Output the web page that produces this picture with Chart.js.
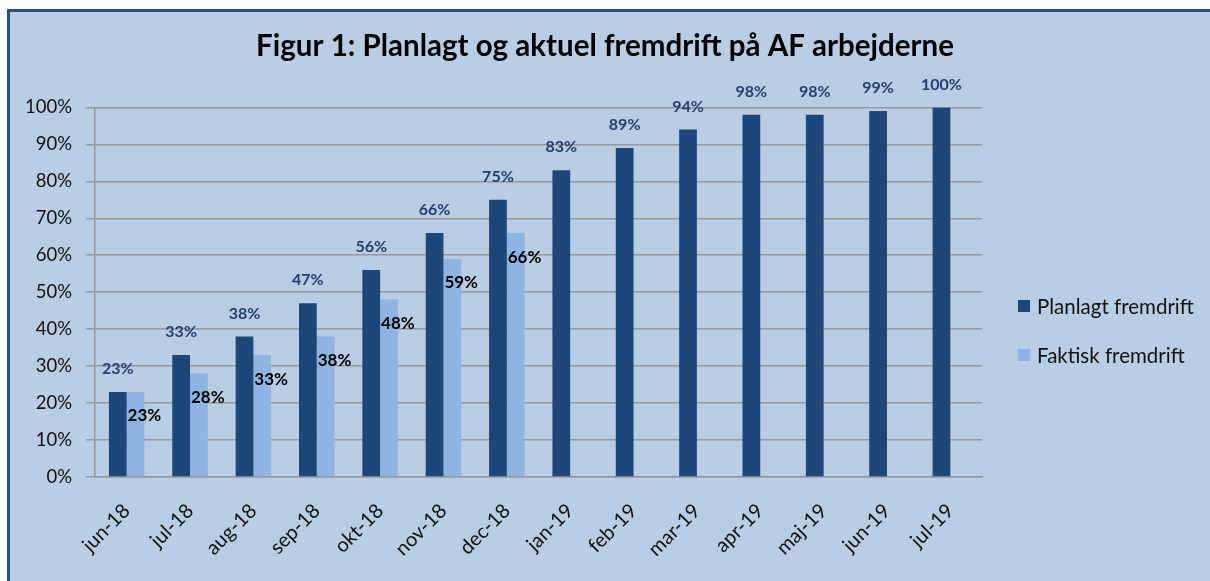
<!DOCTYPE html>
<html>
<head>
<meta charset="utf-8">
<script src="https://cdn.jsdelivr.net/npm/chart.js@4.4.1/dist/chart.umd.min.js"></script>
<style>
  html, body { margin: 0; padding: 0; background: #ffffff; }
  body { width: 1210px; height: 581px; position: relative; overflow: hidden; font-family: Lato, "Open Sans", sans-serif; }
  #frame {
    position: absolute; left: 7px; top: 9px; width: 1220px; height: 600px;
    background: #b9cde5; border-top: 3px solid #24508a; border-left: 3px solid #24508a;
  }
  #chart { position: absolute; left: 0; top: 0; }
  #legend { position: absolute; left: 1018px; top: 292px; }
  .item { display: flex; align-items: center; height: 28px; margin-bottom: 21px; font-size: 20.5px; color: #111; }
  .box { width: 12px; height: 12px; margin-right: 7px; }
</style>
</head>
<body>
<div id="frame"></div>
<canvas id="chart" width="1210" height="581"></canvas>
<div id="legend"></div>
<script>
// data
const months = ["jun-18", "jul-18", "aug-18", "sep-18", "okt-18", "nov-18", "dec-18",
                "jan-19", "feb-19", "mar-19", "apr-19", "maj-19", "jun-19", "jul-19"];
const planlagt = [23, 33, 38, 47, 56, 66, 75, 83, 89, 94, 98, 98, 99, 100];
const faktisk = [23, 28, 33, 38, 48, 59, 66, null, null, null, null, null, null, null];
const seriesNames = ["Planlagt fremdrift", "Faktisk fremdrift"];
const titleText = "Figur 1: Planlagt og aktuel fremdrift på AF arbejderne";

const COLORS = { planned: "#1f4679", actual: "#8eb4e3", grid: "#979797" };
const FONT = "Lato";

// value labels: planned above the bar, actual tucked under the top right corner
const valueLabels = {
    id: "valueLabels",
    afterDatasetsDraw(chart) {
        const ctx = chart.ctx;
        ctx.save();
        ctx.textAlign = "center";
        ctx.textBaseline = "middle";
        chart.data.datasets.forEach((ds, i) => {
            const meta = chart.getDatasetMeta(i);
            meta.data.forEach((bar, j) => {
                const v = ds.data[j];
                if (v == null) return;
                if (i === 0) {
                    ctx.font = `bold 16px ${FONT}`;
                    ctx.fillStyle = "#23416d";
                    ctx.fillText(v + "%", bar.x, bar.y - 23);
                } else {
                    ctx.font = `bold 17px ${FONT}`;
                    ctx.fillStyle = "#000000";
                    ctx.fillText(v + "%", bar.x + bar.width / 2, bar.y + 24);
                }
            });
        });
        ctx.restore();
    }
};

new Chart(document.getElementById("chart").getContext("2d"), {
    type: "bar",
    data: {
        labels: months,
        datasets: [
            { label: seriesNames[0], data: planlagt, backgroundColor: COLORS.planned },
            { label: seriesNames[1], data: faktisk, backgroundColor: COLORS.actual },
        ],
    },
    options: {
        responsive: false,
        animation: false,
        datasets: { bar: { categoryPercentage: 0.56, barPercentage: 1 } },
        layout: { padding: 0 },
        plugins: {
            legend: { display: false },
            tooltip: { enabled: false },
            title: {
                display: true,
                text: titleText,
                color: "#000000",
                font: { family: FONT, size: 29.5, weight: "bold", lineHeight: 1.2 },
                padding: { top: 29, bottom: 43 },
            },
        },
        scales: {
            x: {
                grid: { display: false },
                border: { display: true, color: COLORS.grid, width: 1.5 },
                ticks: {
                    color: "#111111",
                    font: { family: FONT, size: 20 },
                    minRotation: 45,
                    maxRotation: 45,
                    padding: 14,
                },
                afterFit(scale) { scale.height = 104; },
            },
            y: {
                min: 0,
                max: 100,
                grid: { color: COLORS.grid, lineWidth: 1.5, tickLength: 9 },
                border: { display: true, color: COLORS.grid, width: 1.5 },
                ticks: {
                    stepSize: 10,
                    padding: 14,
                    color: "#111111",
                    font: { family: FONT, size: 18.5 },
                    callback: (v) => v + "%",
                },
                afterFit(scale) { scale.width = 95; },
            },
            // empty right-hand strip that leaves room for the legend
            side: {
                position: "right",
                display: true,
                grid: { display: false },
                border: { display: false },
                ticks: { display: false },
                afterFit(scale) { scale.width = 228; },
            },
        },
    },
    plugins: [valueLabels],
});

// legend on the right, as in the original
const legend = document.getElementById("legend");
[COLORS.planned, COLORS.actual].forEach((c, i) => {
    const row = document.createElement("div");
    row.className = "item";
    row.innerHTML = `<span class="box" style="background:${c}"></span>${seriesNames[i]}`;
    legend.appendChild(row);
});
</script>
</body>
</html>
